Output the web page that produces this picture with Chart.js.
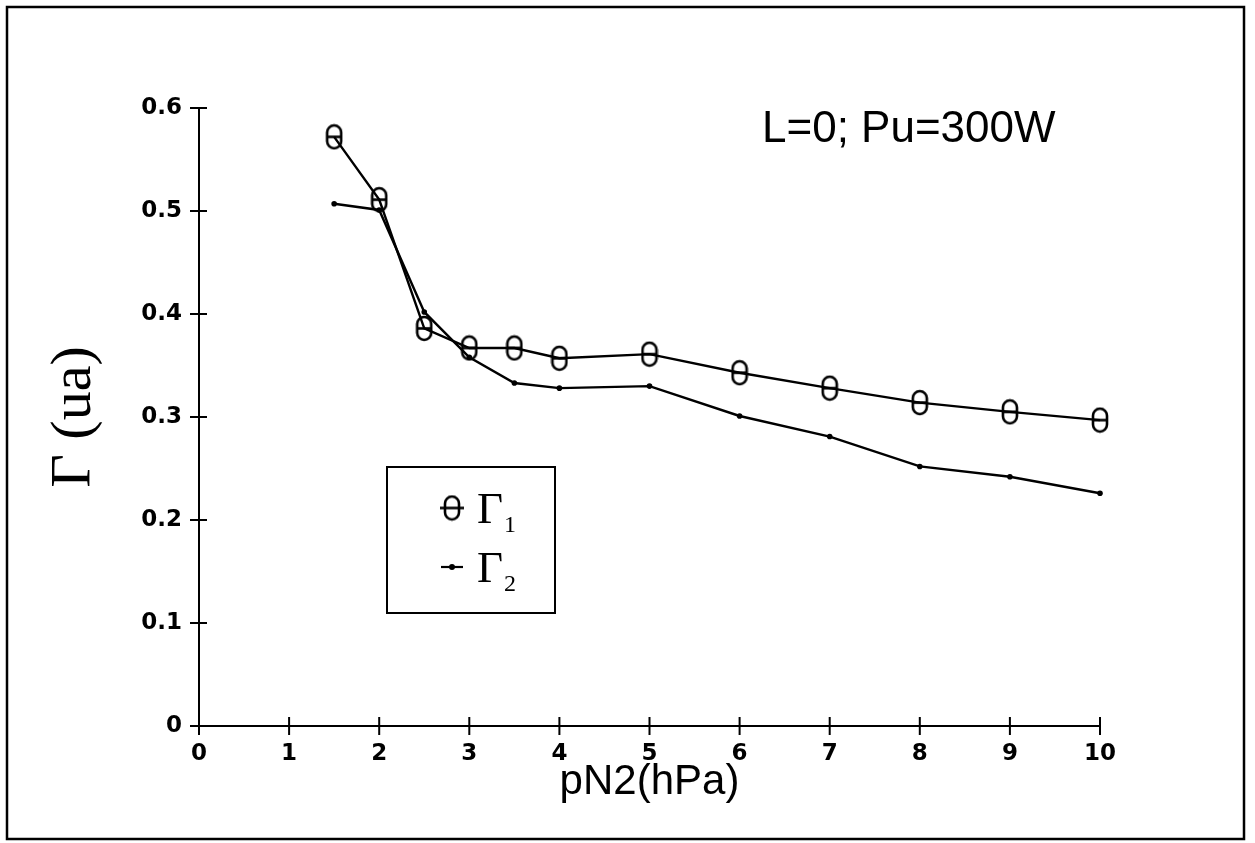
<!DOCTYPE html>
<html>
<head>
<meta charset="utf-8">
<title>Γ vs pN2</title>
<script src="https://cdn.jsdelivr.net/npm/chart.js@4.4.1/dist/chart.umd.min.js"></script>
<style>
  html, body { margin: 0; padding: 0; background: #fff; }
  canvas { display: block; }
</style>
</head>
<body>
<canvas id="chart" width="1255" height="843"></canvas>
<script>
// pN2 (hPa) at which both ratios were measured
const pressure = [1.5, 2, 2.5, 3, 3.5, 4, 5, 6, 7, 8, 9, 10];
// Γ1 and Γ2 (arbitrary units)
const gamma1 = [0.572, 0.511, 0.386, 0.367, 0.367, 0.357, 0.361, 0.343, 0.328, 0.314, 0.305, 0.297];
const gamma2 = [0.507, 0.501, 0.402, 0.358, 0.333, 0.328, 0.330, 0.301, 0.281, 0.252, 0.242, 0.226];

const xTicks = [0, 1, 2, 3, 4, 5, 6, 7, 8, 9, 10];
const yTicks = [0, 0.1, 0.2, 0.3, 0.4, 0.5, 0.6];
const yTickLabels = ['0', '0.1', '0.2', '0.3', '0.4', '0.5', '0.6'];

const INK = '#000';

// open "θ" marker: tall rounded oval with a bar through the middle
const makeOval = (barHalf) => {
  const w = 14, h = 23, pad = 2;
  const c = document.createElement('canvas');
  c.width = Math.max(w + pad * 2, barHalf * 2 + 2);
  c.height = h + pad * 2;
  const g = c.getContext('2d');
  const cx = c.width / 2;
  g.strokeStyle = INK;
  g.lineWidth = 2.6;
  g.beginPath();
  g.roundRect(cx - w / 2, pad, w, h, 7);
  g.stroke();
  g.beginPath();
  g.moveTo(cx - barHalf, pad + h / 2);
  g.lineTo(cx + barHalf, pad + h / 2);
  g.stroke();
  return c;
};

// small dot on a short dash, legend only
const makeDash = () => {
  const c = document.createElement('canvas');
  c.width = 26; c.height = 10;
  const g = c.getContext('2d');
  g.strokeStyle = INK; g.fillStyle = INK; g.lineWidth = 2.2;
  g.beginPath(); g.moveTo(2, 5); g.lineTo(24, 5); g.stroke();
  g.beginPath(); g.arc(13, 5, 3, 0, Math.PI * 2); g.fill();
  return c;
};

const ovalMarker = makeOval(7);
const ovalLegend = makeOval(12);
const dashLegend = makeDash();

const toPoints = (xs, ys) => xs.map((x, i) => ({x, y: ys[i]}));

const decorations = {
  id: 'decorations',
  beforeDraw(chart) {
    const {ctx, width, height} = chart;
    ctx.save();
    ctx.fillStyle = '#fff';
    ctx.fillRect(0, 0, width, height);
    ctx.restore();
  },
  afterDraw(chart) {
    const {ctx, chartArea: area, scales: {x, y}} = chart;
    ctx.save();
    ctx.strokeStyle = INK;
    ctx.fillStyle = INK;

    // outer frame
    ctx.lineWidth = 2.5;
    ctx.strokeRect(7, 7, 1237, 832);

    // tick marks crossing both axes
    ctx.lineWidth = 2;
    ctx.beginPath();
    x.ticks.forEach(t => {
      const px = x.getPixelForValue(t.value);
      ctx.moveTo(px, area.bottom - 9);
      ctx.lineTo(px, area.bottom + 9);
    });
    y.ticks.forEach(t => {
      const py = y.getPixelForValue(t.value);
      ctx.moveTo(area.left - 9, py);
      ctx.lineTo(area.left + 8, py);
    });
    ctx.stroke();

    // run conditions
    ctx.font = '44px "Liberation Sans"';
    ctx.textBaseline = 'alphabetic';
    ctx.textAlign = 'left';
    ctx.fillText('L=0; Pu=300W', area.left + 563, area.top + 34);

    // legend box
    const bx = area.left + 188, by = area.top + 359;
    ctx.lineWidth = 2;
    ctx.strokeRect(bx, by, 168, 146);
    const rows = [
      {img: ovalLegend, sub: '1', dy: 41},
      {img: dashLegend, sub: '2', dy: 100}
    ];
    rows.forEach(r => {
      const my = by + r.dy;
      ctx.drawImage(r.img, bx + 65 - r.img.width / 2, my - r.img.height / 2);
      ctx.font = '45px "Liberation Serif"';
      ctx.fillText('Γ', bx + 90, my + 15);
      const gw = ctx.measureText('Γ').width;
      ctx.font = '24px "Liberation Serif"';
      ctx.fillText(r.sub, bx + 91 + gw, my + 24);
    });
    ctx.restore();
  }
};

new Chart(document.getElementById('chart'), {
  type: 'line',
  data: {
    datasets: [
      {
        label: 'Γ1',
        data: toPoints(pressure, gamma1),
        borderColor: INK,
        borderWidth: 2.4,
        pointStyle: ovalMarker,
        pointRadius: 7,
        tension: 0,
        clip: false
      },
      {
        label: 'Γ2',
        data: toPoints(pressure, gamma2),
        borderColor: INK,
        backgroundColor: INK,
        borderWidth: 2.4,
        pointStyle: 'circle',
        pointRadius: 2.8,
        pointBorderWidth: 0,
        tension: 0,
        clip: false
      }
    ]
  },
  options: {
    responsive: false,
    animation: false,
    events: [],
    layout: {padding: {left: 0, top: 108, right: 155, bottom: 0}},
    plugins: {
      legend: {display: false},
      tooltip: {enabled: false}
    },
    scales: {
      x: {
        type: 'linear',
        min: 0,
        max: 10,
        afterFit: s => { s.height = 117; },
        afterBuildTicks: s => { s.ticks = xTicks.map(v => ({value: v})); },
        grid: {display: false, drawTicks: false},
        border: {display: true, color: INK, width: 2},
        ticks: {
          color: INK,
          padding: 14,
          maxRotation: 0,
          font: {family: '"DejaVu Sans"', size: 23, weight: 'bold'},
          callback: v => String(v)
        },
        title: {
          display: true,
          text: 'pN2(hPa)',
          color: INK,
          font: {family: '"Liberation Sans"', size: 42},
          padding: {top: 0, bottom: 35}
        }
      },
      y: {
        type: 'linear',
        min: 0,
        max: 0.6,
        afterFit: s => { s.width = 199; },
        afterBuildTicks: s => { s.ticks = yTicks.map(v => ({value: v})); },
        grid: {display: false, drawTicks: false},
        border: {display: true, color: INK, width: 2},
        ticks: {
          color: INK,
          padding: 17,
          font: {family: '"DejaVu Sans"', size: 23, weight: 'bold'},
          callback: (v, i) => yTickLabels[i]
        },
        title: {
          display: true,
          text: 'Γ (ua)',
          color: INK,
          font: {family: '"Liberation Serif"', size: 58},
          padding: {top: 40, bottom: 0}
        }
      }
    }
  },
  plugins: [decorations]
});
</script>
</body>
</html>
